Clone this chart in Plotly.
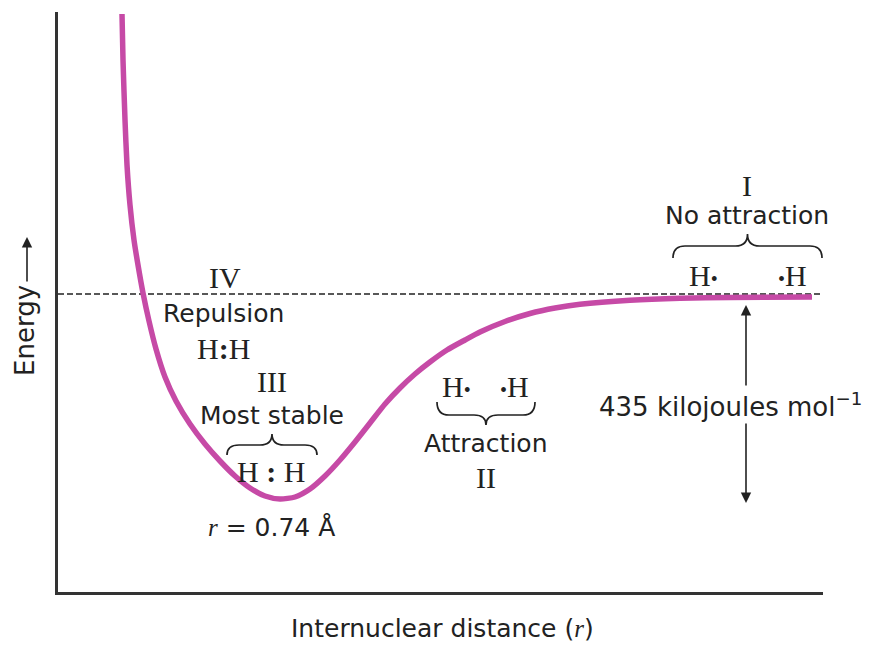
import plotly.graph_objects as go

# ---------------- data (arbitrary units) ----------------
# internuclear distance (x) and potential energy (y); y = 0 at the x axis
r_distance = [64, 65, 67, 69, 72, 76, 80, 85, 91, 98, 107, 118, 132, 147, 162, 177,
              192, 207, 222, 237, 252, 267, 282, 297, 312, 327, 342, 357, 372, 389,
              407, 422, 447, 472, 497, 522, 572, 622, 672, 754]
energy = [578, 532, 472, 427, 387, 352, 327, 299, 271, 243, 215, 191, 168, 148, 131, 116,
          104, 96, 93, 95, 103, 116, 132, 150, 169, 188, 204, 218, 230, 242,
          252, 260, 270.5, 278.5, 284, 287.7, 291.7, 293.7, 294.5, 295]
dissociation_level = 298      # dashed line: energy of two separate H atoms
x_max = 765
y_max = 580

SANS = "DejaVu Sans"
SERIF = "Liberation Serif"
INK = "#222222"
CURVE = "#C64AA6"

# plot area occupies picture pixels x 58..823, y 12..592
L, T, W, H = 58, 12, 765, 580

def to(px, py):          # picture pixel -> data units
    return px - L, (T + H) - py

def paper(px, py):       # picture pixel -> paper units
    return (px - L) / W, ((T + H) - py) / H

fig = go.Figure()
fig.add_trace(go.Scatter(x=r_distance, y=energy, mode="lines",
                         line=dict(color=CURVE, width=5.5, shape="spline", smoothing=0.6),
                         hoverinfo="skip", showlegend=False, cliponaxis=False))

shapes = [dict(type="line", xref="x", yref="y", x0=0, x1=x_max,
               y0=dissociation_level, y1=dissociation_level,
               line=dict(color="#222222", width=1.3, dash="6px,3px"), layer="below")]

def brace(px0, px1, py_end, py_flat, py_tip, rad=12):
    x0, ye = to(px0, py_end)
    x1, _ = to(px1, py_end)
    _, yf = to(px0, py_flat)
    _, yt = to(px0, py_tip)
    xm = (x0 + x1) / 2
    p = (f"M {x0},{ye} Q {x0},{yf} {x0+rad},{yf} L {xm-rad},{yf} "
         f"Q {xm},{yf} {xm},{yt} Q {xm},{yf} {xm+rad},{yf} "
         f"L {x1-rad},{yf} Q {x1},{yf} {x1},{ye}")
    return dict(type="path", xref="x", yref="y", path=p,
                line=dict(color=INK, width=1.7))

shapes.append(brace(673, 822, 258, 246, 234))
shapes.append(brace(227, 317, 455, 445, 434))
shapes.append(brace(437, 535, 402, 415, 425))

ann = []
def label(text, px, py, font=SANS, size=25, angle=0):
    x, y = paper(px, py)
    ann.append(dict(text=text, x=x, y=y, xref="paper", yref="paper", showarrow=False,
                    xanchor="center", yanchor="middle", textangle=angle,
                    font=dict(family=font, size=size, color=INK)))

dot = '<span style="font-size:20px">•</span>'
label("I", 747, 185, SERIF, 30)
label("No attraction", 747, 215)
label("H" + dot, 703, 275, SERIF, 30)
label(dot + "H", 792, 275, SERIF, 30)
label("IV", 225, 277, SERIF, 30)
label("Repulsion", 223, 313)
label("H<b>:</b>H", 223, 348, SERIF, 30)
label("III", 272, 381, SERIF, 30)
label("Most stable", 272, 415)
label("H <b>:</b> H", 271, 471, SERIF, 30)
label('<span style="font-family:Liberation Serif"><i>r</i></span> = 0.74 Å', 271, 527)
label("H" + dot, 456, 386, SERIF, 30)
label(dot + "H", 514, 386, SERIF, 30)
label("Attraction", 486, 443)
label("II", 486, 477, SERIF, 30)
label("435 kilojoules mol<sup>−1</sup>", 730, 405, size=26)
label("Energy", 25, 331, angle=-90, size=26)
label('Internuclear distance (<span style="font-family:Liberation Serif"><i>r</i></span>)',
      442, 628)

def arrow(px, py_tail, py_tip):
    x, yt = paper(px, py_tip)
    ann.append(dict(x=x, y=yt, ax=0, ay=py_tail - py_tip, xref="paper", yref="paper",
                    axref="pixel", ayref="pixel",
                    text="", showarrow=True, arrowhead=2, arrowsize=1.3,
                    arrowwidth=1.6, arrowcolor=INK))

arrow(746, 387, 305)
arrow(746, 422, 503)
arrow(27, 283, 237)

fig.update_layout(
    width=879, height=646,
    margin=dict(l=L, r=879 - L - W, t=T, b=646 - T - H),
    paper_bgcolor="white", plot_bgcolor="white",
    xaxis=dict(range=[0, x_max], showline=True, linecolor="#333333", linewidth=2.5,
               showgrid=False, zeroline=False, showticklabels=False, ticks=""),
    yaxis=dict(range=[0, y_max], showline=True, linecolor="#333333", linewidth=2.5,
               showgrid=False, zeroline=False, showticklabels=False, ticks=""),
    shapes=shapes, annotations=ann, showlegend=False,
)

fig.write_html("out.html", config={"displayModeBar": False},
               post_script="document.body.style.margin='0';document.body.style.overflow='hidden';")
